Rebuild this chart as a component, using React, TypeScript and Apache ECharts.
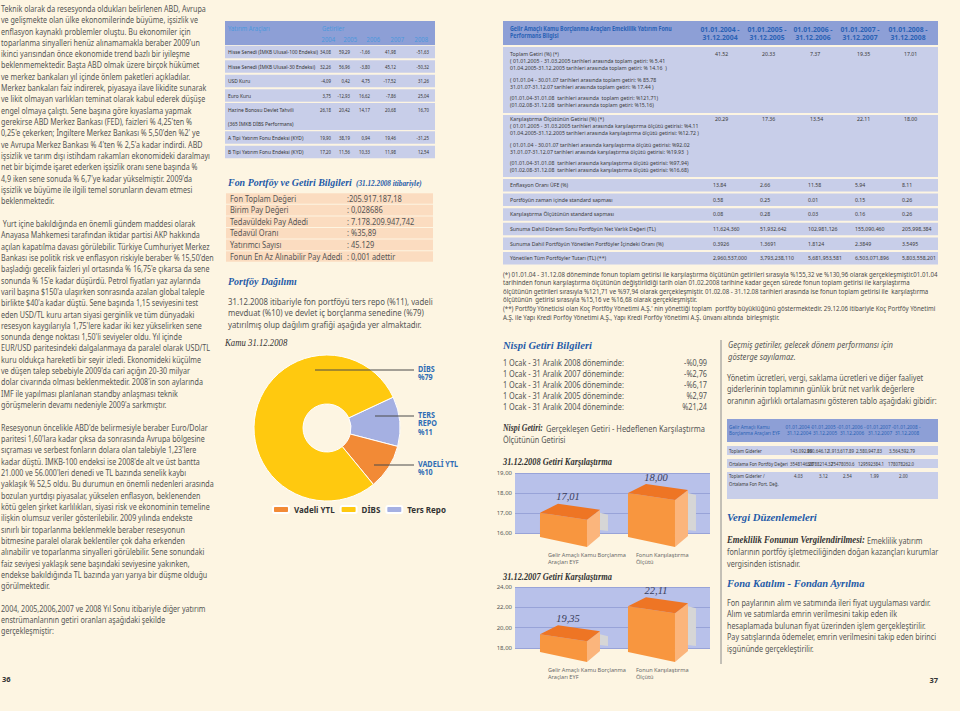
import React, { useEffect, useRef } from "react";
import * as echarts from "echarts";

const BG = "#fdf5e2";
const SANS = "Noto Sans";
const SERIF = "Liberation Serif";
const TXT = "#555555";
const DARK = "#333333";
const HEAD_BLUE = "#1f5ba8";
const TBL_HEAD = "#8d9fd6";
const TBL_ROW = "#c8cee9";
const TBL_HEAD_TXT = "#2a62b5";
const PEACH = "#fbdcc0";

// ---------------- left column text ----------------
const leftP1 = [
  "Teknik olarak da resesyonda oldukları belirlenen ABD, Avrupa",
  "ve gelişmekte olan ülke ekonomilerinde büyüme, işsizlik ve",
  "enflasyon kaynaklı problemler oluştu. Bu ekonomiler için",
  "toparlanma sinyalleri henüz alınamamakla beraber 2009'un",
  "ikinci yarısından önce ekonomide trend bazlı bir iyileşme",
  "beklenmemektedir. Başta ABD olmak üzere birçok hükümet",
  "ve merkez bankaları yıl içinde önlem paketleri açıkladılar.",
  "Merkez bankaları faiz indirerek, piyasaya ilave likidite sunarak",
  "ve likit olmayan varlıkları teminat olarak kabul ederek düşüşe",
  "engel olmaya çalıştı. Sene başına göre kıyaslama yapmak",
  "gerekirse ABD Merkez Bankası (FED), faizleri % 4,25'ten %",
  "0,25'e çekerken; İngiltere Merkez Bankası % 5,50'den %2' ye",
  "ve Avrupa Merkez Bankası % 4'ten % 2,5'a kadar indirdi. ABD",
  "işsizlik ve tarım dışı istihdam rakamları ekonomideki daralmayı",
  "net bir biçimde işaret ederken işsizlik oranı sene başında %",
  "4,9 iken sene sonuda % 6,7'ye kadar yükselmiştir. 2009'da",
  "işsizlik ve büyüme ile ilgili temel sorunların devam etmesi",
  "beklenmektedir.",
];
const leftP2 = [
  " Yurt içine bakıldığında en önemli gündem maddesi olarak",
  "Anayasa Mahkemesi tarafından iktidar partisi AKP hakkında",
  "açılan kapatılma davası görülebilir. Türkiye Cumhuriyet Merkez",
  "Bankası ise politik risk ve enflasyon riskiyle beraber % 15,50'den",
  "başladığı gecelik faizleri yıl ortasında % 16,75'e çıkarsa da sene",
  "sonunda % 15'e kadar düşürdü. Petrol fiyatları yaz aylarında",
  "varil başına $150'a ulaşırken sonrasında azalan global taleple",
  "birlikte $40'a kadar düştü. Sene başında 1,15 seviyesini test",
  "eden USD/TL kuru artan siyasi gerginlik ve tüm dünyadaki",
  "resesyon kaygılarıyla 1,75'lere kadar iki kez yükselirken sene",
  "sonunda denge noktası 1,50'li seviyeler oldu. Yıl içinde",
  "EUR/USD paritesindeki dalgalanmaya da paralel olarak USD/TL",
  "kuru oldukça hareketli bir seyir izledi. Ekonomideki küçülme",
  "ve düşen talep sebebiyle 2009'da cari açığın 20-30 milyar",
  "dolar civarında olması beklenmektedir. 2008'in son aylarında",
  "IMF ile yapılması planlanan standby anlaşması teknik",
  "görüşmelerin devamı nedeniyle 2009'a sarkmıştır.",
];
const leftP3 = [
  "Resesyonun öncelikle ABD'de belirmesiyle beraber Euro/Dolar",
  "paritesi 1,60'lara kadar çıksa da sonrasında Avrupa bölgesine",
  "sıçraması ve serbest fonların dolara olan talebiyle 1,23'lere",
  "kadar düştü. IMKB-100 endeksi ise 2008'de alt ve üst bantta",
  "21.000 ve 56.000'leri denedi ve TL bazında senelik kaybı",
  "yaklaşık % 52,5 oldu. Bu durumun en önemli nedenleri arasında",
  "bozulan yurtdışı piyasalar, yükselen enflasyon, beklenenden",
  "kötü gelen şirket karlılıkları, siyasi risk ve ekonominin temeline",
  "ilişkin olumsuz veriler gösterilebilir. 2009 yılında endekste",
  "sınırlı bir toparlanma beklenmekle beraber resesyonun",
  "bitmesine paralel olarak beklentiler çok daha erkenden",
  "alınabilir ve toparlanma sinyalleri görülebilir. Sene sonundaki",
  "faiz seviyesi yaklaşık sene başındaki seviyesine yakınken,",
  "endekse bakıldığında TL bazında yarı yarıya bir düşme olduğu",
  "görülmektedir.",
];
const leftP4 = [
  "2004, 2005,2006,2007 ve 2008 Yıl Sonu itibariyle diğer yatırım",
  "enstrümanlarının getiri oranları aşağıdaki şekilde",
  "gerçekleşmiştir:",
];

// ---------------- investment returns table ----------------
const investTools = [
  ["Hisse Senedi (İMKB Ulusal-100 Endeksi)"],
  ["Hisse Senedi (İMKB Ulusal-30 Endeksi)"],
  ["USD Kuru"],
  ["Euro Kuru"],
  ["Hazine Bonosu Devlet Tahvili", "(365 İMKB DİBS Performans)"],
  ["A Tipi Yatırım Fonu Endeksi (KYD)"],
  ["B Tipi Yatırım Fonu Endeksi (KYD)"],
];
const returnYears = ["2004", "2005", "2006", "2007", "2008"];
const investReturns = [
  ["34,08", "59,29", "-1,66", "41,98", "-51,63"],
  ["32,26", "56,96", "-3,80", "45,12", "-50,32"],
  ["-4,09", "0,42", "4,75", "-17,52", "31,26"],
  ["3,75", "-12,93", "16,62", "-7,86", "25,04"],
  ["26,18", "20,42", "14,17", "20,68", "16,70"],
  ["19,90", "38,19", "0,94", "19,46", "-31,25"],
  ["17,20", "11,56", "10,33", "11,98", "12,54"],
];

// ---------------- fund info ----------------
const fundInfoLabels = [
  "Fon Toplam Değeri",
  "Birim Pay Değeri",
  "Tedavüldeki Pay Adedi",
  "Tedavül Oranı",
  "Yatırımcı Sayısı",
  "Fonun En Az Alınabilir Pay Adedi",
];
const fundInfoValues = [
  ":205.917.187,18",
  ": 0,028686",
  ": 7.178.209.947,742",
  ": %35,89",
  ": 45.129",
  ": 0,001 adettir",
];
const portfolioText = [
  "31.12.2008 itibariyle fon portföyü ters repo (%11), vadeli",
  "mevduat (%10) ve devlet iç borçlanma senedine (%79)",
  "yatırılmış olup dağılım grafiği aşağıda yer almaktadır.",
];

// ---------------- pie ----------------
const pieNames = ["Ters Repo", "Vadeli YTL", "DİBS"];
const pieValues = [11, 10, 79];
const pieColors = ["#a5b0e2", "#f28a36", "#ffc90f"];
const pieLegendOrder = ["Vadeli YTL", "DİBS", "Ters Repo"];
const pieLabelWords: Record<string, string[]> = {
  "DİBS": ["DİBS"],
  "Ters Repo": ["TERS", "REPO"],
  "Vadeli YTL": ["VADELİ YTL"],
};

// ---------------- performance table ----------------
const perfTitle = ["Gelir Amaçlı Kamu Borçlanma Araçları Emeklilik Yatırım Fonu", "Performans Bilgisi"];
const perfPeriods = [
  ["01.01.2004 -", "31.12.2004"],
  ["01.01.2005 -", "31.12.2005"],
  ["01.01.2006 -", "31.12.2006"],
  ["01.01.2007 -", "31.12.2007"],
  ["01.01.2008 -", "31.12.2008"],
];
const perfTotalLines = [
  "Toplam Getiri (%) (*)",
  "( 01.01.2005 - 31.03.2005 tarihleri arasında toplam getiri: % 5.41",
  "01.04.2005-31.12.2005 tarihleri arasında toplam getiri: % 14.16  )",
  "( 01.01.04 - 30.01.07 tarihleri arasında toplam getiri: % 85.78",
  "31.01.07-31.12.07 tarihleri arasında toplam getiri: % 17.44 )",
  "(01.01.04-31.01.08  tarihleri arasında  toplam getiri: %121,71)",
  "(01.02.08-31.12.08  tarihleri arasında toplam getiri: %15,16)",
];
const perfTotalValues = ["41.52", "20.33", "7.37", "19.35", "17.01"];
const perfBenchLines = [
  "Karşılaştırma Ölçütünün Getirisi (%) (*)",
  "( 01.01.2005 - 31.03.2005 tarihleri arasında karşılaştırma ölçütü getirisi: %4.11",
  "01.04.2005-31.12.2005 tarihleri arasında karşılaştırma ölçütü getirisi: %12.72 )",
  "( 01.01.04 - 30.01.07 tarihleri arasında karşılaştırma ölçütü getirisi: %92.02",
  "31.01.07-31.12.07 tarihleri arasında karşılaştırma ölçütü getirisi: %19.93  )",
  "(01.01.04-31.01.08  tarihleri arasında karşılaştırma ölçütü getirisi: %97,94)",
  "(01.02.08-31.12.08  tarihleri arasında karşılaştırma ölçütü getirisi: %16,68)",
];
const perfBenchValues = ["20.29", "17.36", "13.54", "22.11", "18.00"];
const perfRowLabels = [
  "Enflasyon Oranı ÜFE (%)",
  "Portföyün zaman içinde standard sapması",
  "Karşılaştırma Ölçütünün standard sapması",
  "Sunuma Dahil Dönem Sonu Portföyün Net Varlık Değeri (TL)",
  "Sunuma Dahil Portföyün Yönetilen Portföyler İçindeki Oranı (%)",
  "Yönetilen Tüm Portföyler Tutarı (TL) (**)",
];
const perfRowValues = [
  ["13.84", "2.66", "11.58", "5.94", "8.11"],
  ["0.58", "0.25", "0.01", "0.15", "0.26"],
  ["0.08", "0.28", "0.03", "0.16", "0.26"],
  ["11,624,360", "51,932,642", "102,981,126", "155,090,460", "205,998,384"],
  ["0.3926", "1.3691", "1.8124", "2.3849", "3.5495"],
  ["2,960,537,000", "3,793,238,110", "5,681,953,581", "6,503,071,896", "5,803,558,201"],
];
const perfNotes = [
  "(*) 01.01.04 - 31.12.08 döneminde fonun toplam getirisi ile karşılaştırma ölçütünün getirileri sırasıyla %155,32 ve %130,96 olarak gerçekleşmiştir.01.01.04",
  "tarihinden fonun karşılaştırma ölçütünün değiştirildiği tarih olan 01.02.2008 tarihine kadar geçen sürede fonun toplam getirisi ile karşılaştırma",
  "ölçütünün getirileri sırasıyla %121,71 ve %97,94 olarak gerçekleşmiştir. 01.02.08 - 31.12.08 tarihleri arasında ise fonun toplam getirisi ile  karşılaştırma",
  "ölçütünün  getirisi sırasıyla %15,16 ve %16,68 olarak gerçekleşmiştir.",
  "(**) Portföy Yöneticisi olan Koç Portföy Yönetimi A.Ş.' nin yönettiği toplam  portföy büyüklüğünü göstermektedir. 29.12.06 itibariyle Koç Portföy Yönetimi",
  "A.Ş. ile Yapı Kredi Porföy Yönetimi A.Ş., Yapı Kredi Porföy Yönetimi A.Ş. ünvanı altında  birleşmiştir.",
];

// ---------------- relative returns ----------------
const nispiPeriods = [
  "1 Ocak - 31 Aralık 2008 döneminde:",
  "1 Ocak - 31 Aralık 2007 döneminde:",
  "1 Ocak - 31 Aralık 2006 döneminde:",
  "1 Ocak - 31 Aralık 2005 döneminde:",
  "1 Ocak - 31 Aralık 2004 döneminde:",
];
const nispiValues = ["-%0,99", "-%2,76", "-%6,17", "%2,97", "%21,24"];

// ---------------- bar charts ----------------
const barCategories = [
  ["Gelir Amaçlı Kamu Borçlanma", "Araçları EYF"],
  ["Fonun Karşılaştırma", "Ölçütü"],
];
const returns2008 = [17.01, 18.0];
const returns2007 = [19.35, 22.11];
const axis2008 = { min: 16, max: 19, interval: 1 };
const axis2007 = { min: 18, max: 24, interval: 2 };

// ---------------- right column ----------------
const pastNote = ["Geçmiş getiriler, gelecek dönem performansı için", "gösterge sayılamaz."];
const expenseText = [
  "Yönetim ücretleri, vergi, saklama ücretleri ve diğer faaliyet",
  "giderlerinin toplamının günlük brüt net varlık değerlere",
  "oranının ağırlıklı ortalamasını gösteren tablo aşağıdaki gibidir:",
];
const expenseHeader = ["Gelir Amaçlı Kamu", "Borçlanma Araçları EYF"];
const expenseRowLabels = [["Toplam Giderler"], ["Ortalama Fon Portföy Değeri"], ["Toplam Giderler /", "Ortalama Fon Port. Değ."]];
const expenseValues = [
  ["143,092.89", "960,646.12", "1,913,617.89", "2,580,947.83", "3,564,592.79"],
  ["3548146.28", "30788214.32", "75478050.6", "129592384.1", "178078262.0"],
  ["4.03", "3.12", "2.54", "1.99", "2.00"],
];
const taxText = [
  "fonlarının portföy işletmeciliğinden doğan kazançları kurumlar",
  "vergisinden istisnadır.",
];
const joinText = [
  "Fon paylarının alım ve satımında ileri fiyat uygulaması vardır.",
  "Alım ve satımlarda emrin verilmesini takip eden ilk",
  "hesaplamada bulunan fiyat üzerinden işlem gerçekleştirilir.",
  "Pay satışlarında ödemeler, emrin verilmesini takip eden birinci",
  "işgününde gerçekleştirilir.",
];

// ---------------- helpers ----------------
const mctx = document.createElement("canvas").getContext("2d") as CanvasRenderingContext2D;
type TO = { size: number; family?: string; color?: string; weight?: string; italic?: boolean; sx?: number; align?: string; z?: number; va?: string };
function fontStr(o: TO) {
  return `${o.italic ? "italic" : "normal"} ${o.weight ?? "normal"} ${o.size}px "${o.family ?? SANS}"`;
}
function tw(text: string, o: TO) {
  mctx.font = fontStr(o);
  return mctx.measureText(text).width;
}
function fitScale(text: string, o: TO, w: number) {
  return w / tw(text, o);
}
function T(x: number, y: number, text: string, o: TO) {
  const align = o.align ?? "left";
  const va = o.va ?? "middle";
  return {
    type: "text",
    x,
    y,
    scaleX: o.sx ?? 1,
    silent: true,
    z: o.z ?? 5,
    style: {
      text,
      x: 0,
      y: 0,
      fill: o.color ?? TXT,
      fontSize: o.size,
      fontFamily: o.family ?? SANS,
      fontWeight: o.weight ?? "normal",
      fontStyle: o.italic ? "italic" : "normal",
      textAlign: align,
      textVerticalAlign: va,
      align,
      verticalAlign: va,
    },
  };
}
function R(x: number, y: number, w: number, h: number, fill: string, z = 1) {
  return { type: "rect", silent: true, z, shape: { x, y, width: w, height: h }, style: { fill } };
}
function L(x1: number, y1: number, x2: number, y2: number, stroke: string, z = 10) {
  return { type: "line", silent: true, z, shape: { x1, y1, x2, y2 }, style: { stroke, lineWidth: 1 } };
}
const fmtComma = (v: number) => v.toFixed(2).replace(".", ",");

function bar3D(minVal: number) {
  return (params: any, api: any) => {
    const idx = params.dataIndex;
    const v = api.value(1);
    const top = api.coord([api.value(0), v]);
    const base = api.coord([api.value(0), minVal]);
    const x0 = top[0] - 23.5;
    const x1 = top[0] + 23.5;
    const yT = top[1];
    const yB = base[1];
    return {
      type: "group",
      children: [
        { type: "polygon", shape: { points: [[x1 + 13, yT], [x1 + 21, yT + 2], [x1 + 21, yB - 2], [x1 + 13, yB - 3]] }, style: { fill: "#d6d6d6" } },
        { type: "polygon", shape: { points: [[x1, yT + 7], [x1 + 13, yT - 3], [x1 + 13, yB + 3], [x1, yB + 14]] }, style: { fill: "#fbb57c" } },
        { type: "polygon", shape: { points: [[x0, yT], [x1, yT + 7], [x1, yB + 14], [x0, yB + 4]] }, style: { fill: "#f8963f" } },
        { type: "polygon", shape: { points: [[x0, yT], [x0 + 18, yT - 9], [x1 + 13, yT - 3], [x1, yT + 7]] }, style: { fill: "#ee7524" } },
        {
          type: "text",
          style: {
            text: fmtComma(v), x: x0 + 28, y: yT - 16, fill: "#3a3d5a", fontSize: 10.5, fontFamily: SERIF,
            fontStyle: "italic", textAlign: "center", textVerticalAlign: "middle", align: "center", verticalAlign: "middle",
          },
        },
        {
          type: "text",
          style: {
            text: barCategories[idx].join("\n"), x: x0 + 8, y: yB + 18, fill: "#6a6a6a", fontSize: 5.6, lineHeight: 7,
            fontFamily: SANS, textAlign: "left", textVerticalAlign: "top", align: "left", verticalAlign: "top",
          },
        },
      ],
    };
  };
}

function buildGraphic() {
  const els: any[] = [];

  // ---- left column
  const leftAll = [leftP1, leftP2, leftP3, leftP4];
  const lo: TO = { size: 9, color: TXT };
  const flat = leftAll.flat();
  lo.sx = 213 / Math.max(...flat.map((t) => tw(t, lo)));
  let li = 0;
  leftAll.forEach((p) => {
    p.forEach((t) => {
      els.push(T(1, 8 + li * 11.32, t, lo));
      li++;
    });
    li++;
  });
  els.push(T(2, 679, "36", { size: 7.5, weight: "bold", color: DARK }));

  // ---- investment returns table
  els.push(R(225, 21, 210, 24, TBL_HEAD));
  const to: TO = { size: 6, color: DARK };
  to.sx = fitScale(investTools[0][0], to, 90);
  const vo: TO = { ...to, sx: to.sx * 0.88, align: "right" };
  const th: TO = { size: 7.2, color: "#4b98dc", sx: to.sx };
  els.push(T(228, 28, "Yatırım Araçları", th));
  els.push(T(322, 28, "Getiriler", th));
  const yearRight = [335, 357, 380, 404, 428];
  const valRight = [331, 350, 370, 396, 429];
  returnYears.forEach((y, i) => els.push(T(yearRight[i], 39.5, y, { ...th, align: "right" })));
  const rowCenters = [52, 66.5, 81, 95.5, 109.5, 137.5, 152];
  const rowHeights = [12.5, 12.5, 12.5, 12.5, 27, 12.5, 12.5];
  investTools.forEach((lab, r) => {
    const c = rowCenters[r];
    const h = rowHeights[r];
    const top = lab.length > 1 ? c - 6.5 : c - h / 2;
    els.push(R(225, top, 210, h, TBL_ROW));
    lab.forEach((t, k) => els.push(T(228, c + k * 14.5, t, to)));
    investReturns[r].forEach((v, i) => els.push(T(valRight[i], c, v, vo)));
  });

  // ---- fund info
  const ho: TO = { size: 11, family: SERIF, italic: true, weight: "bold", color: HEAD_BLUE };
  ho.sx = fitScale("Fon Portföy ve Getiri Bilgileri", ho, 124);
  els.push(T(228, 182, "Fon Portföy ve Getiri Bilgileri", ho));
  els.push(T(356, 183, "(31.12.2008 itibariyle)", { size: 8, family: SERIF, italic: true, weight: "bold", color: HEAD_BLUE, sx: ho.sx }));
  const io: TO = { size: 8.4, color: "#555555" };
  io.sx = fitScale(fundInfoLabels[5], io, 112);
  fundInfoLabels.forEach((lab, i) => {
    const c = 198.5 + i * 11.6;
    els.push(R(226, c - 5.3, 207, 10.6, PEACH));
    els.push(T(230, c, lab, io));
    els.push(T(347, c, fundInfoValues[i], io));
  });
  els.push(T(228, 281, "Portföy Dağılımı", ho));
  const po: TO = { size: 9, color: TXT };
  po.sx = fitScale(portfolioText[0], po, 205);
  portfolioText.forEach((t, i) => els.push(T(228, 301 + i * 11.5, t, po)));
  els.push(T(225, 343, "Kamu 31.12.2008", { size: 9.5, family: SERIF, italic: true, color: DARK, sx: 0.92 }));

  // pie annotations
  const lblO: TO = { size: 8, weight: "bold", color: "#2f6db5", sx: 0.9 };
  const annot: Record<string, { y: number; x0: number }> = {
    "DİBS": { y: 370, x0: 315 },
    "Ters Repo": { y: 416, x0: 375 },
    "Vadeli YTL": { y: 465, x0: 374 },
  };
  pieNames.forEach((n, i) => {
    const a = annot[n];
    els.push(L(a.x0, a.y, 414, a.y, "#4a4a4a"));
    const words = [...pieLabelWords[n], "%" + pieValues[i]];
    words.forEach((w, k) => els.push(T(418, a.y - 1 + k * 8.2, w, lblO)));
  });

  // ---- performance table
  els.push(R(503, 21, 435, 24, TBL_HEAD));
  const pho: TO = { size: 6.4, weight: "bold", color: TBL_HEAD_TXT };
  pho.sx = fitScale(perfTitle[0], pho, 162);
  perfTitle.forEach((t, k) => els.push(T(510, 29 + k * 7, t, pho)));
  const perfCenters = [720, 767, 813, 860, 908];
  const pho2: TO = { size: 7.2, weight: "bold", color: TBL_HEAD_TXT, align: "center", sx: 0.95 };
  perfPeriods.forEach((p, i) => p.forEach((t, k) => els.push(T(perfCenters[i], 29 + k * 7.5, t, pho2))));
  const pto: TO = { size: 6, color: "#3a3a3a" };
  pto.sx = fitScale(perfBenchLines[1], pto, 189);
  const perfValX = [713, 760, 808, 855, 902];
  const subOff = [0, 7, 13.5, 26, 33, 44, 51];
  els.push(R(503, 47, 435, 66, TBL_ROW));
  els.push(R(503, 115, 435, 62, TBL_ROW));
  perfTotalLines.forEach((t, k) => els.push(T(510, 54 + subOff[k], t, pto)));
  perfBenchLines.forEach((t, k) => els.push(T(510, 119 + subOff[k], t, pto)));
  perfTotalValues.forEach((v, i) => els.push(T(perfValX[i] + 2, 54, v, pto)));
  perfBenchValues.forEach((v, i) => els.push(T(perfValX[i] + 2, 119, v, pto)));
  perfRowLabels.forEach((lab, r) => {
    const c = 185 + r * 14.6;
    els.push(R(503, c - 6, 435, 12.5, TBL_ROW));
    els.push(T(510, c, lab, pto));
    perfRowValues[r].forEach((v, i) => els.push(T(perfValX[i], c, v, pto)));
  });
  const fno: TO = { size: 7.2, color: "#4a4a4a" };
  fno.sx = fitScale(perfNotes[0], fno, 435);
  perfNotes.forEach((t, k) => els.push(T(503, 274 + k * 8.6, t, fno)));

  // ---- relative returns
  const nho: TO = { ...ho };
  nho.sx = fitScale("Nispi Getiri Bilgileri", nho, 89);
  els.push(T(503, 345, "Nispi Getiri Bilgileri", nho));
  const no: TO = { size: 9, color: TXT };
  no.sx = fitScale(nispiPeriods[0], no, 121);
  nispiPeriods.forEach((t, i) => {
    els.push(T(503, 362 + i * 11, t, no));
    els.push(T(707, 362 + i * 11, nispiValues[i], { ...no, align: "right" }));
  });
  const nbO: TO = { size: 9.5, family: SERIF, italic: true, weight: "bold", color: DARK };
  nbO.sx = fitScale("Nispi Getiri:", nbO, 40);
  els.push(T(503, 428, "Nispi Getiri:", nbO));
  const rest = " Gerçekleşen Getiri - Hedeflenen Karşılaştırma";
  els.push(T(544, 428, rest, { ...no, sx: fitScale(rest, no, 161) }));
  els.push(T(503, 439.5, "Ölçütünün Getirisi", no));
  const cto: TO = { size: 10, family: SERIF, italic: true, weight: "bold", color: DARK };
  cto.sx = fitScale("31.12.2008 Getiri Karşılaştırma", cto, 109);
  els.push(T(503, 462, "31.12.2008 Getiri Karşılaştırma", cto));
  els.push(T(503, 577, "31.12.2007 Getiri Karşılaştırma", cto));

  // ---- right column
  els.push(L(721, 340, 721, 664, "#8a8a8a", 1));
  const gO: TO = { size: 9.5, italic: true, color: "#555555" };
  gO.sx = fitScale(pastNote[0], gO, 165);
  pastNote.forEach((t, i) => els.push(T(728, 345 + i * 12, t, gO)));
  const ro: TO = { size: 9, color: TXT };
  ro.sx = fitScale(expenseText[2], ro, 210);
  expenseText.forEach((t, i) => els.push(T(727, 377 + i * 11.5, t, ro)));

  els.push(R(727, 419, 211, 23, TBL_HEAD));
  const eho: TO = { size: 5, color: TBL_HEAD_TXT, sx: 0.95 };
  expenseHeader.forEach((t, k) => els.push(T(729, 427 + k * 6, t, eho)));
  const expCenters = [799, 825, 852, 880, 907];
  perfPeriods.forEach((p, i) => p.forEach((t, k) => els.push(T(expCenters[i], 427 + k * 6, t, { ...eho, align: "center" }))));
  const eto: TO = { size: 5, color: "#3a3a3a" };
  eto.sx = fitScale(expenseRowLabels[1][0], eto, 59);
  const expRowY = [[446, 9, 450.5], [459, 9, 463.5], [472, 27, 476]];
  const expValX = [
    [790, 807, 828, 856, 889],
    [790, 807, 831, 858, 888],
    [794, 819, 843, 870, 899],
  ];
  expenseRowLabels.forEach((lab, r) => {
    const [top, h, c] = expRowY[r];
    els.push(R(727, top, 211, h, TBL_ROW));
    lab.forEach((t, k) => els.push(T(729, c + k * 8, t, eto)));
    expenseValues[r].forEach((v, i) => els.push(T(expValX[r][i], c, v, eto)));
  });

  const vho: TO = { ...ho };
  vho.sx = fitScale("Vergi Düzenlemeleri", vho, 90);
  els.push(T(727, 517, "Vergi Düzenlemeleri", vho));
  const ebO: TO = { size: 9.5, family: SERIF, italic: true, weight: "bold", color: DARK };
  ebO.sx = fitScale("Emeklilik Fonunun Vergilendirilmesi:", ebO, 138);
  els.push(T(727, 540, "Emeklilik Fonunun Vergilendirilmesi:", ebO));
  els.push(T(867, 540, "Emeklilik yatırım", { ...ro }));
  taxText.forEach((t, i) => els.push(T(727, 551.5 + i * 11.5, t, ro)));
  const fho: TO = { ...ho };
  fho.sx = fitScale("Fona Katılım - Fondan Ayrılma", fho, 138);
  els.push(T(727, 583, "Fona Katılım - Fondan Ayrılma", fho));
  joinText.forEach((t, i) => els.push(T(727, 602 + i * 11.5, t, ro)));
  els.push(T(938, 680, "37", { size: 7.5, weight: "bold", color: DARK, align: "right" }));

  return els;
}

function buildOption() {
  const gridBg = "#b8c1ea";
  const yAxisBase = (a: any, gi: number) => ({
    type: "value",
    gridIndex: gi,
    min: a.min,
    max: a.max,
    interval: a.interval,
    axisLine: { show: false },
    axisTick: { show: false },
    axisLabel: { fontSize: 6, color: "#555", margin: 3, fontFamily: SANS, formatter: (v: number) => fmtComma(v) },
    splitLine: { lineStyle: { color: "#98a3d8", width: 1 } },
  });
  const xAxisBase = (gi: number) => ({
    type: "value",
    gridIndex: gi,
    min: -0.551,
    max: 1.665,
    show: false,
    splitLine: { show: false },
  });
  return {
    animation: false,
    backgroundColor: BG,
    legend: {
      data: pieLegendOrder,
      left: 267,
      top: 500,
      itemWidth: 16,
      itemHeight: 7,
      itemGap: 5,
      icon: "roundRect",
      selectedMode: false,
      textStyle: { fontSize: 8, fontWeight: "bold", color: DARK, fontFamily: SANS },
    },
    grid: [
      { left: 515, top: 473, width: 195, height: 60, show: true, backgroundColor: gridBg, borderWidth: 0 },
      { left: 515, top: 587, width: 195, height: 61, show: true, backgroundColor: gridBg, borderWidth: 0 },
    ],
    xAxis: [xAxisBase(0), xAxisBase(1)],
    yAxis: [yAxisBase(axis2008, 0), yAxisBase(axis2007, 1)],
    series: [
      {
        type: "pie",
        center: [327, 428],
        radius: [24, 73],
        startAngle: 25,
        silent: true,
        label: { show: false },
        labelLine: { show: false },
        itemStyle: { borderColor: "#ffffff", borderWidth: 1 },
        data: pieNames.map((n, i) => ({ name: n, value: pieValues[i], itemStyle: { color: pieColors[i] } })),
      },
      {
        type: "custom",
        xAxisIndex: 0,
        yAxisIndex: 0,
        clip: false,
        silent: true,
        renderItem: bar3D(axis2008.min),
        data: returns2008.map((v, i) => [i, v]),
      },
      {
        type: "custom",
        xAxisIndex: 1,
        yAxisIndex: 1,
        clip: false,
        silent: true,
        renderItem: bar3D(axis2007.min),
        data: returns2007.map((v, i) => [i, v]),
      },
    ],
    graphic: { elements: buildGraphic() },
  };
}

export default function App() {
  const ref = useRef<HTMLDivElement>(null);
  useEffect(() => {
    if (!ref.current) return;
    const chart = echarts.init(ref.current, null, { renderer: "svg" });
    chart.setOption(buildOption() as any);
    return () => chart.dispose();
  }, []);
  return (
    <div
      ref={ref}
      style={{ position: "absolute", left: 0, top: 0, width: 960, height: 711, background: BG }}
    />
  );
}
